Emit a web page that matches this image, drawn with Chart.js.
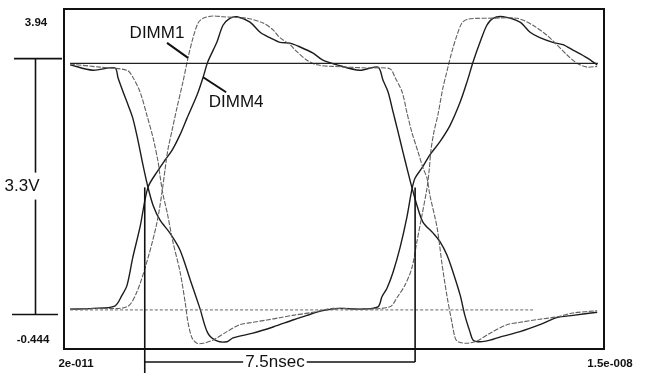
<!DOCTYPE html>
<html>
<head>
<meta charset="utf-8">
<script src="https://cdn.jsdelivr.net/npm/chart.js@4.4.1/dist/chart.umd.min.js"></script>
<style>
  html, body { margin: 0; padding: 0; background: #fff; }
  canvas { display: block; }
</style>
</head>
<body>
<canvas id="eye" width="646" height="374"></canvas>
<script>
// Axis window: time in ns, voltage in V
const timeRangeNs = [0.02, 15];
const voltRange = [-0.444, 3.94];
const xTickLabels = ['2e-011', '1.5e-008'];
const yTickLabels = ['3.94', '-0.444'];

// Waveforms as [time ns, volts]
const dimm4RiseFall = [
  [0.19,0.07],[0.82,0.08],[1.43,0.11],[1.63,0.25],[1.77,0.38],[1.93,0.74],[2.13,1.13],
  [2.35,1.64],[2.63,1.86],[2.82,1.99],[3.02,2.12],[3.24,2.32],[3.43,2.53],[3.71,2.83],
  [3.88,3.06],[4.01,3.26],[4.26,3.51],[4.43,3.73],[4.62,3.82],[4.82,3.84],[5.18,3.77],
  [5.46,3.64],[5.73,3.57],[6.01,3.51],[6.29,3.50],[6.57,3.45],[6.93,3.37],[7.20,3.28],
  [7.59,3.22],[8.23,3.15],[8.73,3.19],[8.87,3.02],[9.01,2.87],[9.15,2.61],[9.29,2.35],
  [9.42,2.10],[9.56,1.84],[9.67,1.64],[9.81,1.41],[9.98,1.19],[10.26,1.05],[10.45,0.94],
  [10.64,0.77],[10.81,0.55],[11.01,0.25],[11.14,-0.01],[11.28,-0.22],[11.37,-0.33],
  [11.56,-0.35],[11.84,-0.33],[12.11,-0.29],[12.67,-0.22],[13.22,-0.13],[13.69,-0.04],
  [14.14,-0.01],[14.81,0.03]
];
const dimm4FallRise = [
  [0.19,3.22],[0.82,3.15],[1.43,3.18],[1.52,3.05],[1.66,2.87],[1.80,2.70],[1.93,2.53],
  [2.07,2.25],[2.21,1.93],[2.35,1.64],[2.49,1.41],[2.68,1.22],[2.96,1.05],[3.24,0.83],
  [3.52,0.45],[3.79,0.08],[4.01,-0.24],[4.26,-0.34],[4.54,-0.35],[4.71,-0.30],[5.26,-0.24],
  [5.82,-0.16],[6.37,-0.07],[6.76,-0.01],[7.20,0.05],[7.68,0.08],[8.23,0.07],[8.73,0.10],
  [8.84,0.23],[8.98,0.34],[9.15,0.55],[9.34,0.86],[9.53,1.25],[9.67,1.61],[9.76,1.76],
  [9.95,1.89],[10.17,2.06],[10.45,2.23],[10.73,2.44],[11.01,2.74],[11.20,3.00],[11.37,3.26],
  [11.56,3.51],[11.75,3.73],[11.92,3.82],[12.20,3.84],[12.67,3.77],[12.95,3.64],[13.22,3.57],
  [13.58,3.51],[13.86,3.48],[14.14,3.41],[14.53,3.31],[14.81,3.22]
];
const dimm1RiseFall = [
  [0.19,0.07],[1.02,0.08],[1.77,0.10],[2.04,0.29],[2.35,0.73],[2.60,1.19],[2.74,1.58],
  [2.82,1.86],[2.90,2.12],[3.02,2.38],[3.15,2.66],[3.32,3.00],[3.46,3.31],[3.60,3.57],
  [3.74,3.76],[3.88,3.82],[4.15,3.85],[4.43,3.84],[5.10,3.82],[5.54,3.76],[5.82,3.67],
  [6.01,3.57],[6.29,3.48],[6.48,3.39],[6.76,3.28],[7.04,3.22],[7.48,3.20],[8.42,3.18],
  [9.06,3.17],[9.20,3.06],[9.40,2.87],[9.53,2.61],[9.67,2.35],[9.84,2.10],[9.98,1.89],
  [10.09,1.76],[10.17,1.54],[10.37,1.12],[10.51,0.64],[10.64,0.25],[10.78,-0.10],
  [10.87,-0.30],[10.95,-0.35],[11.20,-0.37],[11.48,-0.34],[11.84,-0.24],[12.31,-0.13],
  [12.67,-0.10],[13.22,-0.06],[13.69,-0.03],[14.14,0.02],[14.81,0.05]
];
const dimm1FallRise = [
  [0.19,3.23],[1.02,3.19],[1.77,3.15],[1.93,3.06],[2.13,2.87],[2.32,2.57],[2.49,2.28],
  [2.63,1.97],[2.68,1.80],[2.77,1.54],[2.88,1.32],[3.04,0.94],[3.24,0.55],[3.38,0.16],
  [3.46,-0.10],[3.57,-0.30],[3.71,-0.37],[3.88,-0.37],[4.15,-0.33],[4.54,-0.22],[4.90,-0.13],
  [5.26,-0.10],[5.65,-0.07],[6.01,-0.04],[6.37,-0.01],[6.93,0.03],[7.48,0.08],[8.23,0.07],
  [9.06,0.10],[9.26,0.22],[9.48,0.38],[9.67,0.60],[9.81,0.94],[9.95,1.28],[10.09,1.63],
  [10.15,1.86],[10.20,2.12],[10.28,2.35],[10.39,2.57],[10.53,2.92],[10.64,3.13],[10.78,3.39],
  [10.92,3.60],[11.06,3.76],[11.23,3.81],[11.56,3.82],[11.75,3.82],[12.59,3.82],[13.03,3.73],
  [13.42,3.60],[13.69,3.48],[13.97,3.35],[14.25,3.24],[14.53,3.19],[14.81,3.20]
];
const steadyHigh = [[0.19,3.24],[14.83,3.24]];
const steadyLow = [[0.19,0.06],[13.03,0.06]];

// Dimension annotations
const swingVolts = [0, 3.3];
const swingLabel = '3.3V';
const periodNs = 7.5;
const crossingsNs = [2.35, 9.67];
const crossingVolts = 1.64;
const periodLabel = '7.5nsec';
const traceTags = [
  { text: 'DIMM1', point: [3.46, 3.31], dx: -31, dy: -25, from: [-21, -15] },
  { text: 'DIMM4', point: [3.88, 3.06], dx: 33, dy: 25, from: [23, 15] }
];

const toXY = pts => pts.map(p => ({ x: p[0], y: p[1] }));
const SANS = '"Liberation Sans", Arial, sans-serif';

const annotations = {
  id: 'annotations',
  afterDatasetsDraw(chart) {
    const { ctx, chartArea: a, scales: { x, y } } = chart;
    ctx.save();
    ctx.strokeStyle = '#111';
    ctx.fillStyle = '#111';

    // plot frame
    ctx.lineWidth = 2;
    ctx.strokeRect(a.left, a.top, a.right - a.left, a.bottom - a.top);

    // axis end values
    ctx.font = 'bold 11.5px ' + SANS;
    ctx.textAlign = 'center';
    ctx.textBaseline = 'middle';
    ctx.fillText(yTickLabels[0], 36, y.getPixelForValue(voltRange[1]) + 14);
    ctx.fillText(yTickLabels[1], 33, y.getPixelForValue(voltRange[0]) - 9);
    ctx.fillText(xTickLabels[0], x.getPixelForValue(timeRangeNs[0]) + 12, a.bottom + 15);
    ctx.fillText(xTickLabels[1], x.getPixelForValue(timeRangeNs[1]) + 6, a.bottom + 15);

    const seg = (x1, y1, x2, y2) => {
      ctx.beginPath(); ctx.moveTo(x1, y1); ctx.lineTo(x2, y2); ctx.stroke();
    };

    // voltage swing bracket
    ctx.lineWidth = 1.6;
    const yLo = y.getPixelForValue(swingVolts[0]);
    const yHi = y.getPixelForValue(swingVolts[1]);
    const yMid = (yLo + yHi) / 2;
    seg(14, yHi, 62, yHi);
    seg(12, yLo, 58, yLo);
    seg(35.5, yHi, 35.5, yMid - 14);
    seg(35.5, yMid + 13, 35.5, yLo);
    ctx.font = '17px ' + SANS;
    ctx.fillText(swingLabel, 22, yMid);

    // period bracket
    const mid = (crossingsNs[0] + crossingsNs[1]) / 2;
    const xa = x.getPixelForValue(mid - periodNs / 2);
    const xb = x.getPixelForValue(mid + periodNs / 2);
    const yc = y.getPixelForValue(crossingVolts);
    const yb = a.bottom + 13;
    seg(xa, yc, xa, 373);
    seg(xb, yc, xb, yb);
    const tw = ctx.measureText(periodLabel).width;
    const tx = (xa + xb) / 2 - 5;
    seg(xa, yb, tx - tw / 2 - 2, yb);
    seg(tx + tw / 2 + 2, yb, xb, yb);
    ctx.fillText(periodLabel, tx, yb);

    // trace tags with leader lines
    ctx.lineWidth = 2;
    traceTags.forEach(t => {
      const px = x.getPixelForValue(t.point[0]);
      const py = y.getPixelForValue(t.point[1]);
      seg(px + t.from[0], py + t.from[1], px, py);
      ctx.fillText(t.text, px + t.dx, py + t.dy);
    });
    ctx.restore();
  }
};

const dark = { borderColor: '#1c1c1c', borderWidth: 1.4 };
const light = { borderColor: '#606060', borderWidth: 1.1, borderDash: [5, 1.5] };

new Chart(document.getElementById('eye'), {
  type: 'line',
  data: {
    datasets: [
      { label: 'high', data: toXY(steadyHigh), borderColor: '#222', borderWidth: 1.3 },
      { label: 'low', data: toXY(steadyLow), borderColor: '#666', borderWidth: 1, borderDash: [3, 2] },
      { label: 'DIMM1 rise', data: toXY(dimm1RiseFall), ...light },
      { label: 'DIMM1 fall', data: toXY(dimm1FallRise), ...light },
      { label: 'DIMM4 rise', data: toXY(dimm4RiseFall), ...dark },
      { label: 'DIMM4 fall', data: toXY(dimm4FallRise), ...dark }
    ]
  },
  options: {
    responsive: false,
    animation: false,
    devicePixelRatio: 1,
    layout: { padding: { left: 64, right: 42, top: 9, bottom: 25 } },
    elements: {
      point: { radius: 0 },
      line: { tension: 0.3, fill: false, cubicInterpolationMode: 'default' }
    },
    plugins: { legend: { display: false }, tooltip: { enabled: false } },
    scales: {
      x: { type: 'linear', min: timeRangeNs[0], max: timeRangeNs[1], display: false },
      y: { type: 'linear', min: voltRange[0], max: voltRange[1], display: false }
    }
  },
  plugins: [annotations]
});
</script>
</body>
</html>
